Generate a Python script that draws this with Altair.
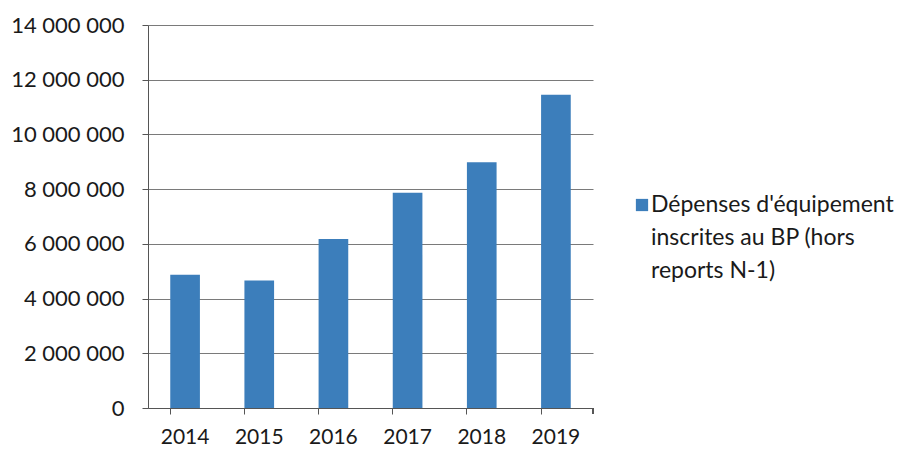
import altair as alt
import pandas as pd

YEARS = ["2014", "2015", "2016", "2017", "2018", "2019"]
VALUES = [4870000, 4660000, 6180000, 7870000, 8980000, 11450000]
LEGEND_LINES = ["Dépenses d'équipement", "inscrites au BP (hors", "reports N-1)"]
Y_TICKS = [0, 2000000, 4000000, 6000000, 8000000, 10000000, 12000000, 14000000]

BAR_COLOR = "#3C7EBB"
FONT = "Lato"
W, H = 445, 383

df = pd.DataFrame({"year": YEARS, "value": VALUES})

x_scale = alt.Scale(paddingInner=0.6, paddingOuter=0.3)
y_scale = alt.Scale(domain=[0, 14000000], nice=False)

bars = alt.Chart(df).mark_bar(color=BAR_COLOR).encode(
    x=alt.X("year:N", scale=x_scale, sort=YEARS,
            axis=alt.Axis(title=None, bandPosition=0,
                          labelAngle=0, labelFont=FONT, labelFontSize=21,
                          labelColor="#1a1a1a", labelPadding=12, tickSize=6,
                          tickColor="#555", domainColor="#555", grid=False)),
    y=alt.Y("value:Q", scale=y_scale,
            axis=alt.Axis(title=None, values=Y_TICKS, grid=True, gridColor="#7a7a7a",
                          gridWidth=1, tickSize=6, tickColor="#555", domainColor="#555",
                          labelFont=FONT, labelFontSize=22, labelColor="#1a1a1a",
                          labelPadding=18,
                          labelExpr="replace(format(datum.value, ','), regexp(',', 'g'), ' ')")),
)

end_tick = alt.Chart(df).mark_rect(color="#555").encode(
    x=alt.value(W - 0.5), x2=alt.value(W + 0.5), y=alt.value(H), y2=alt.value(H + 6)
)

leg_df = pd.DataFrame({"label": [LEGEND_LINES]})
leg_sym = alt.Chart(leg_df).mark_square(color=BAR_COLOR, size=150, opacity=1).encode(
    x=alt.value(494), y=alt.value(180)
)
leg_txt = alt.Chart(leg_df).mark_text(
    align="left", baseline="middle", font=FONT, fontSize=23, lineHeight=33, color="#1a1a1a"
).encode(x=alt.value(503), y=alt.value(180), text="label")

chart = alt.layer(bars, end_tick, leg_sym, leg_txt).properties(
    width=W, height=H,
    autosize=alt.AutoSizeParams(type="none"),
    padding={"left": 148, "top": 25, "right": 313, "bottom": 42},
).configure(background="white").configure_view(stroke="transparent", strokeWidth=0)

chart.save("out.html", embed_options={"renderer": "svg", "actions": False})
